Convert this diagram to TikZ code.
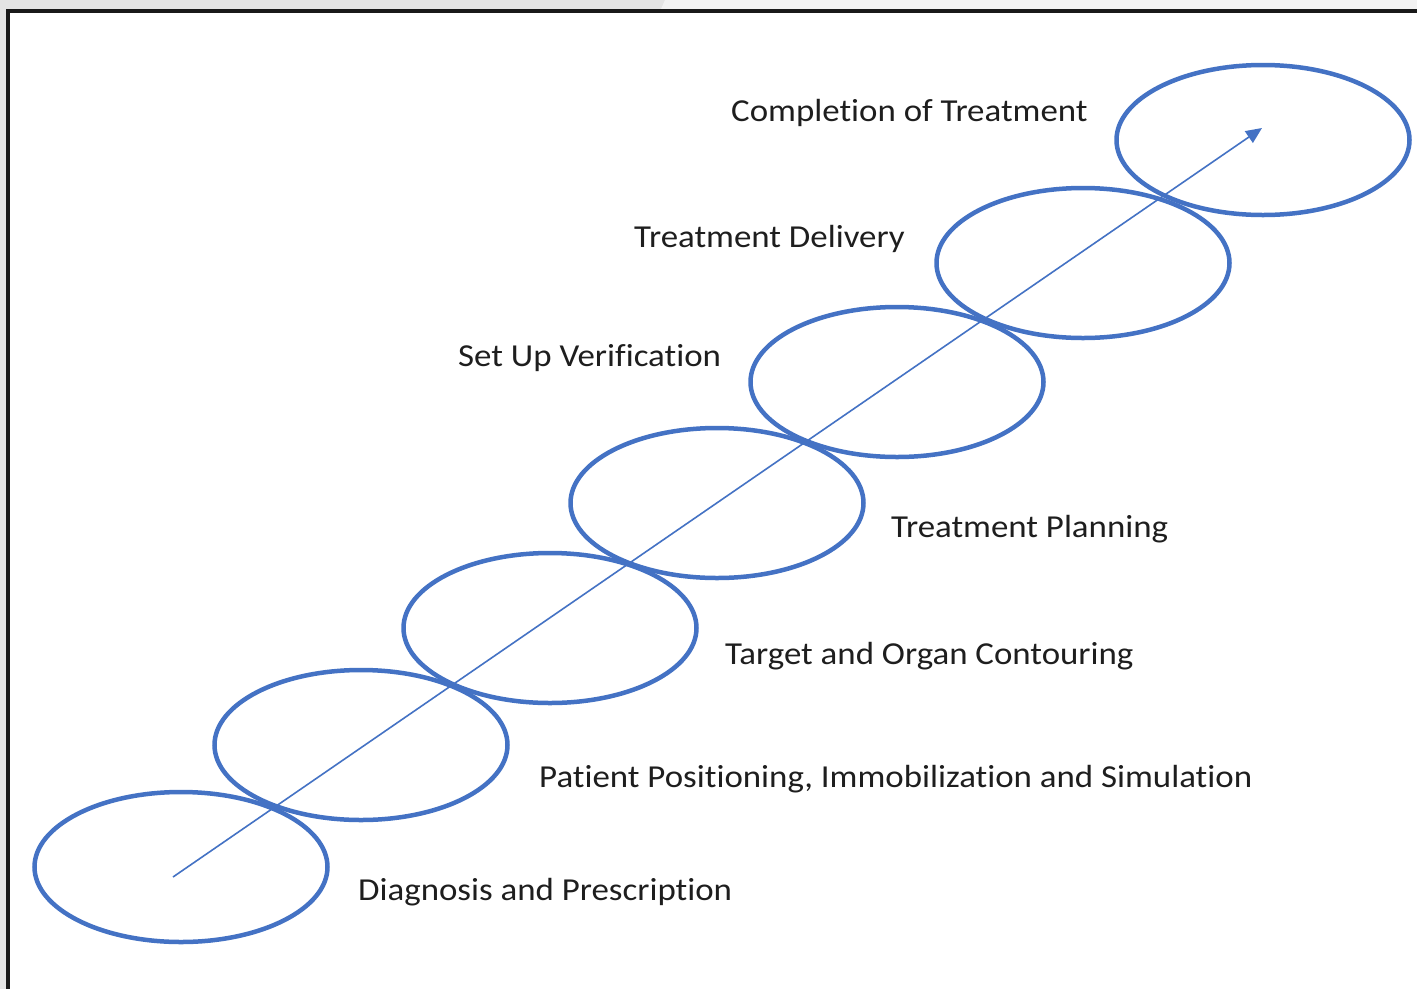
\documentclass[tikz,border=0pt]{standalone}
\usepackage{fontspec}
\setmainfont[Ligatures=NoCommon]{Carlito}
\usetikzlibrary{arrows.meta,shapes.geometric}
\definecolor{ringblue}{HTML}{4472C4}
\definecolor{txtgray}{HTML}{1E1E1E}
\definecolor{bandA}{RGB}{228,228,228}
\definecolor{bandB}{RGB}{242,242,242}
\newcommand{\widetxt}[1]{\scalebox{1.09}[1]{#1}}
\begin{document}
\begin{tikzpicture}[x=1pt,y=-1pt,
  ring/.style={draw=ringblue,line width=4.5pt,ellipse,minimum width=293pt,minimum height=150pt,inner sep=0pt},
  lbl/.style={anchor=base west,inner sep=0pt,text=txtgray,font=\fontsize{32}{38}\selectfont}]
\useasboundingbox (0,0) rectangle (1417,989);
\fill[white] (0,0) rectangle (1417,989);
\fill[bandA] (0,0) rectangle (665,9);
\fill[bandB] (665,0) -- (1417,0) -- (1417,9) -- (661,9) -- cycle;
\fill[bandA] (0,0) rectangle (6,989);
\fill[black!90] (6,9) rectangle (1417,13);
\fill[black!90] (6,9) rectangle (9.5,989);
\node[ring] (e1) at (181,867) {};
\node[ring] (e2) at (361,745) {};
\node[ring] (e3) at (550,628) {};
\node[ring] (e4) at (717,503) {};
\node[ring] (e5) at (897,382) {};
\node[ring] (e6) at (1083,263) {};
\node[ring] (e7) at (1263,140) {};
\coordinate (s) at (173,877);
\coordinate (t) at (1262,128);
\draw[ringblue,line width=1.6pt,-{Triangle[length=16pt,width=14pt]}] (s) -- (t);
\node[lbl] (l7) at (731,121) {\widetxt{Completion of Treatment}};
\node[lbl] (l6) at (634,247) {\widetxt{Treatment Delivery}};
\node[lbl] (l5) at (458,366) {\widetxt{Set Up Verification}};
\node[lbl] (l4) at (891,537) {\widetxt{Treatment Planning}};
\node[lbl] (l3) at (725,664) {\widetxt{Target and Organ Contouring}};
\node[lbl] (l2) at (539,787) {\widetxt{Patient Positioning, Immobilization and Simulation}};
\node[lbl] (l1) at (358,900) {\widetxt{Diagnosis and Prescription}};
\end{tikzpicture}
\end{document}
